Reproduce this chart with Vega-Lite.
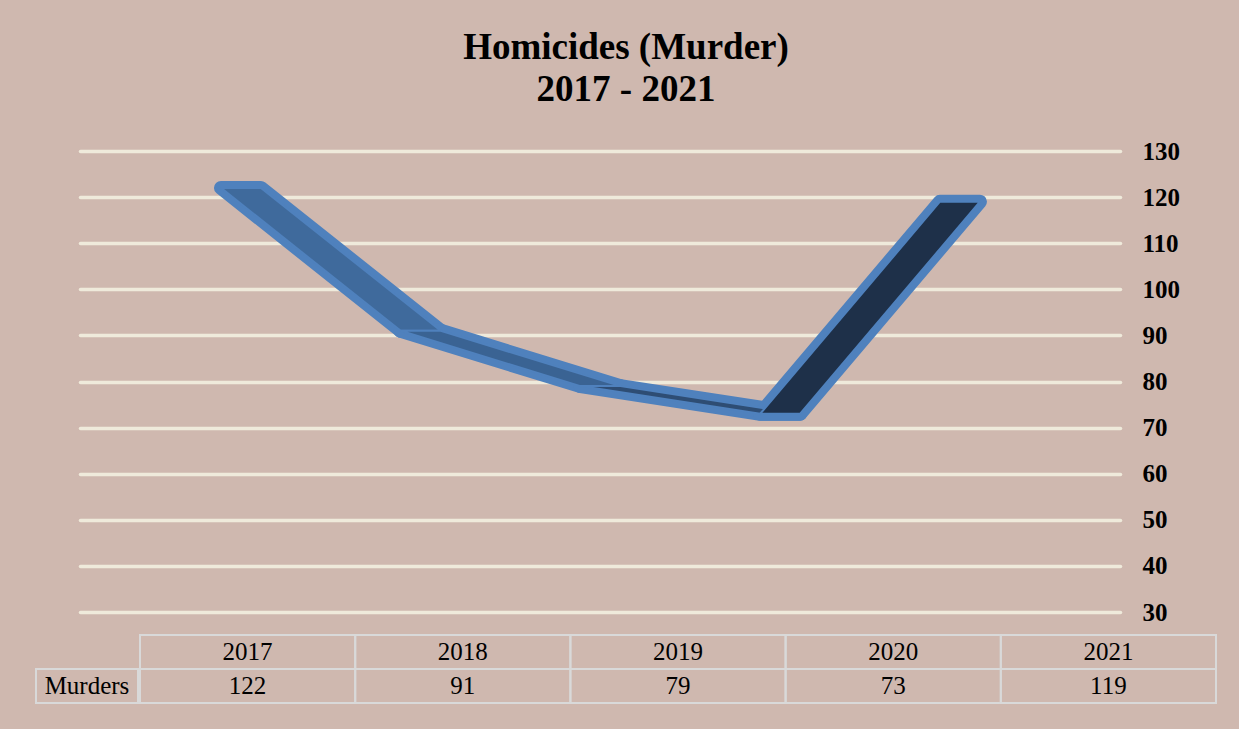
{
  "$schema": "https://vega.github.io/schema/vega-lite/v6.json",
  "background": "#CFB8AF",
  "padding": {"left": 35, "right": 26, "top": 29, "bottom": 26},
  "title": {
    "text": ["Homicides (Murder)", "2017 - 2021"],
    "font": "Liberation Serif",
    "fontSize": 37,
    "fontWeight": "bold",
    "color": "#000000",
    "lineHeight": 42,
    "anchor": "middle",
    "offset": 30
  },
  "config": {"view": {"stroke": null}},
  "datasets": {
    "murders": [
      {"year": 2017, "murders": 122},
      {"year": 2018, "murders": 91},
      {"year": 2019, "murders": 79},
      {"year": 2020, "murders": 73},
      {"year": 2021, "murders": 119}
    ],
    "ribbon": [
      {"segment": "2017-2018", "year": 2017, "murders": 122},
      {"segment": "2017-2018", "year": 2018, "murders": 91},
      {"segment": "2018-2019", "year": 2018, "murders": 91},
      {"segment": "2018-2019", "year": 2019, "murders": 79},
      {"segment": "2019-2020", "year": 2019, "murders": 79},
      {"segment": "2019-2020", "year": 2020, "murders": 73},
      {"segment": "2020-2021", "year": 2020, "murders": 73},
      {"segment": "2020-2021", "year": 2021, "murders": 119}
    ]
  },
  "spacing": 9,
  "vconcat": [
    {
      "width": 1084,
      "height": 461,
      "data": {"name": "ribbon"},
      "encoding": {
        "y": {
          "field": "murders",
          "type": "quantitative",
          "scale": {"domain": [30, 130], "nice": false, "zero": false},
          "axis": {
            "orient": "right",
            "values": [30, 40, 50, 60, 70, 80, 90, 100, 110, 120, 130],
            "title": null,
            "domain": false,
            "ticks": false,
            "labelPadding": 22,
            "labelFont": "Liberation Serif",
            "labelFontSize": 25,
            "labelFontWeight": "bold",
            "labelColor": "#000000",
            "grid": true,
            "gridColor": "#EFEADB",
            "gridWidth": 3.5,
            "gridCap": "round"
          }
        },
        "x": {
          "field": "year",
          "type": "quantitative",
          "stack": null,
          "scale": {"domain": [2015.971, 2021.757], "range": [0, 1040], "nice": false, "zero": false},
          "axis": null
        },
        "x2": {"field": "year"},
        "detail": {"field": "segment", "type": "nominal"}
      },
      "layer": [
        {
          "mark": {
            "type": "area",
            "orient": "horizontal",
            "x2Offset": 40,
            "fill": "#4F81BD",
            "stroke": "#4F81BD",
            "strokeWidth": 14,
            "strokeJoin": "round"
          }
        },
        {
          "mark": {
            "type": "area",
            "orient": "horizontal",
            "x2Offset": 40,
            "stroke": "#4F81BD",
            "strokeWidth": 2,
            "strokeJoin": "round",
            "fillOpacity": 1
          },
          "encoding": {
            "color": {
              "field": "segment",
              "type": "nominal",
              "scale": {
                "domain": ["2017-2018", "2018-2019", "2019-2020", "2020-2021"],
                "range": ["#3F6A9C", "#3A6393", "#2E4D74", "#1E3049"]
              },
              "legend": null
            }
          }
        }
      ]
    },
    {
      "spacing": 0,
      "hconcat": [
        {
          "width": 102,
          "height": 68,
          "data": {"values": [{"label": "Murders"}]},
          "encoding": {
            "y": {
              "field": "label",
              "type": "nominal",
              "scale": {"domain": ["Year", "Murders"], "paddingInner": 0, "paddingOuter": 0},
              "axis": null
            }
          },
          "layer": [
            {"mark": {"type": "rect", "fill": "transparent", "stroke": "#D9D9D9", "strokeWidth": 2}},
            {
              "mark": {"type": "text", "font": "Liberation Serif", "fontSize": 25, "color": "#000000", "align": "center"},
              "encoding": {"text": {"field": "label", "type": "nominal"}}
            }
          ]
        },
        {
          "width": 1076,
          "height": 68,
          "data": {"name": "murders"},
          "encoding": {
            "x": {
              "field": "year",
              "type": "ordinal",
              "scale": {"paddingInner": 0, "paddingOuter": 0},
              "axis": null
            }
          },
          "layer": [
            {
              "mark": {"type": "rect", "fill": "transparent", "stroke": "#D9D9D9", "strokeWidth": 2},
              "encoding": {
                "y": {
                  "datum": "Year",
                  "type": "nominal",
                  "scale": {"domain": ["Year", "Murders"], "paddingInner": 0, "paddingOuter": 0},
                  "axis": null
                }
              }
            },
            {
              "mark": {"type": "rect", "fill": "transparent", "stroke": "#D9D9D9", "strokeWidth": 2},
              "encoding": {"y": {"datum": "Murders", "type": "nominal"}}
            },
            {
              "mark": {"type": "text", "font": "Liberation Serif", "fontSize": 25, "color": "#000000"},
              "encoding": {
                "y": {"datum": "Year", "type": "nominal"},
                "text": {"field": "year", "type": "nominal"}
              }
            },
            {
              "mark": {"type": "text", "font": "Liberation Serif", "fontSize": 25, "color": "#000000"},
              "encoding": {
                "y": {"datum": "Murders", "type": "nominal"},
                "text": {"field": "murders", "type": "nominal"}
              }
            }
          ]
        }
      ]
    }
  ]
}
